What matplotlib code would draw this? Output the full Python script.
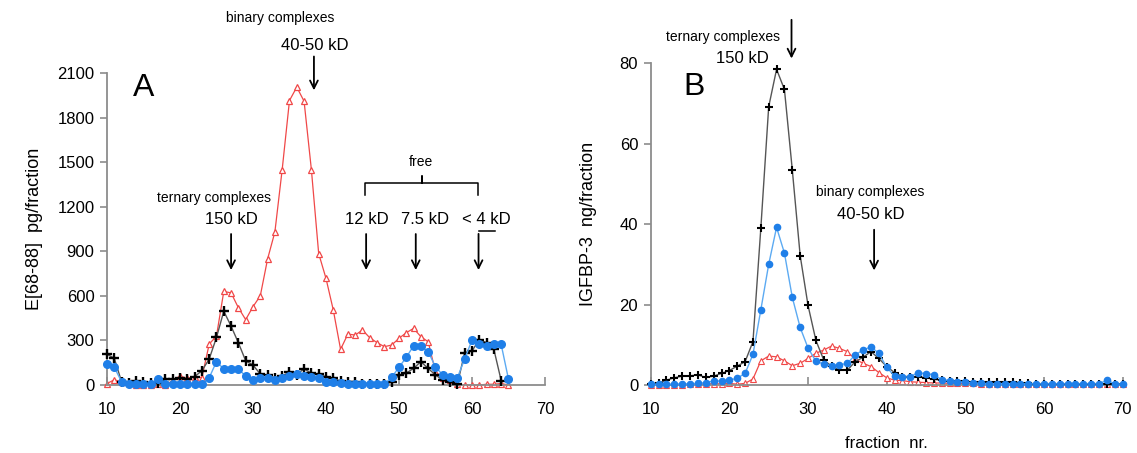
import numpy as np
from matplotlib import pyplot as plt

plt.rcParams['font.family'] = ['Liberation Sans', 'DejaVu Sans']

# Panel A: E[68-88] pg/fraction, fractions 10..65
frac_a = list(range(10, 66))
red_a = [10, 35, 20, 22, 0, 0, 0, 10, 0, 30,
         60, 45, 55, 50, 275, 330, 630, 620, 520, 440,
         527, 600, 848, 1030, 1450, 1915, 2005, 1910, 1450, 885,
         718, 505, 240, 343, 336, 370, 318, 285, 258, 269,
         314, 352, 381, 325, 291, 90, 45, 35, 10, 0,
         0, 0, 5, 5, 10, 0]
frac_a_black = list(range(10, 65))
black_a = [208, 179, 22, 15, 25, 22, 11, 15, 38, 38,
           45, 40, 56, 96, 175, 320, 497, 396, 284, 163,
           134, 74, 65, 45, 60, 87, 70, 110, 78, 72,
           55, 45, 25, 20, 20, 8, 5, 5, 5, 20,
           65, 80, 112, 157, 112, 67, 34, 22, 5, 217,
           229, 305, 285, 240, 30]
blue_a = [139, 119, 22, 5, 5, 5, 5, 38, 5, 5,
          5, 5, 5, 5, 49, 157, 108, 108, 108, 60,
          36, 45, 45, 36, 45, 58, 72, 58, 54, 45,
          22, 20, 15, 10, 7, 4, 4, 4, 4, 52,
          119, 186, 264, 264, 224, 123, 67, 52, 49, 175,
          302, 273, 264, 273, 273, 40]

# Panel B: IGFBP-3 ng/fraction, fractions 10..70
frac_b = list(range(10, 71))
black_b = [0.2, 0.5, 1.2, 1.8, 2.2, 2.3, 2.5, 1.9, 2.2, 2.9,
           3.6, 4.7, 5.8, 10.8, 39.0, 69.2, 78.5, 73.5, 53.5, 32.2,
           19.8, 11.1, 6.2, 4.7, 3.7, 3.7, 5.8, 6.9, 8.3, 6.6,
           4.6, 3.1, 2.1, 2.1, 2.1, 1.8, 1.4, 1.2, 1.0, 0.9,
           0.9, 0.8, 0.8, 0.7, 0.7, 0.7, 0.8, 0.6, 0.4, 0.3,
           0.3, 0.3, 0.3, 0.3, 0.3, 0.3, 0.3, 0.3, 0.3, 0.3, 0.3]
blue_b = [0.2, 0.2, 0.2, 0.2, 0.3, 0.3, 0.4, 0.6, 1.0, 1.0,
          1.2, 1.7, 2.9, 7.6, 18.7, 30.0, 39.2, 32.8, 21.8, 14.3,
          9.2, 5.9, 5.2, 4.7, 5.0, 5.4, 7.5, 8.7, 9.5, 7.9,
          4.4, 2.2, 1.9, 2.1, 3.1, 2.8, 2.6, 1.3, 1.1, 0.8,
          0.7, 0.5, 0.4, 0.3, 0.3, 0.3, 0.3, 0.3, 0.3, 0.3,
          0.3, 0.3, 0.3, 0.3, 0.3, 0.3, 0.3, 0.3, 1.2, 0.3, 0.2]
red_b = [0.1, 0.1, 0.1, 0.1, 0.1, 0.2, 0.2, 0.3, 0.3, 0.3,
         0.4, 0.2, 0.4, 1.5, 6.0, 7.2, 7.0, 6.0, 4.8, 5.4,
         6.6, 7.9, 8.7, 9.7, 9.1, 8.3, 6.4, 5.4, 4.6, 3.1,
         1.8, 1.2, 1.1, 0.8, 0.7, 0.6, 0.5, 0.5, 0.4, 0.4,
         0.4, 0.4, 0.3, 0.3, 0.3, 0.3, 0.3, 0.3, 0.3, 0.3,
         0.3, 0.3, 0.3, 0.3, 0.3, 0.3, 0.3, 0.3, 0.3, 0.3, 0.3]

RED = '#f04848'
BLUE = '#1f7fe8'
BLUE_LINE = '#5caaf2'
GRAY = '#8c8c8c'


def style_axes(ax):
    for side in ['top', 'right']:
        ax.spines[side].set_visible(False)
    for side in ['left', 'bottom']:
        ax.spines[side].set_color(GRAY)
        ax.spines[side].set_linewidth(1.3)
    ax.tick_params(axis='y', direction='out', length=5, width=1.2, color=GRAY, labelsize=12, pad=4)
    ax.tick_params(axis='x', direction='in', length=6, width=1.2, color=GRAY, labelsize=12, pad=12)


def down_arrow(ax, x, y0, y1):
    ax.annotate('', xy=(x, y1), xytext=(x, y0), annotation_clip=False,
                arrowprops=dict(arrowstyle='->', color='black', lw=1.3, mutation_scale=14))


fig = plt.figure(figsize=(11.37, 4.53), dpi=100)
ax_a = fig.add_axes([0.0941, 0.1501, 0.3852, 0.6887])
ax_b = fig.add_axes([0.5723, 0.1501, 0.4151, 0.7102])

# ---- panel A ----
ax_a.plot(frac_a, red_a, color=RED, lw=0.9, marker='^', ms=5, mfc='white', mec=RED, mew=0.9, clip_on=False, zorder=2)
ax_a.plot(frac_a_black, black_a, color='#555555', lw=1.0, marker='+', ms=7.5, mec='black', mew=1.7, clip_on=False, zorder=3)
ax_a.plot(frac_a, blue_a, color=BLUE_LINE, lw=1.0, marker='o', ms=5.5, mfc=BLUE, mec=BLUE, clip_on=False, zorder=4)
ax_a.set_xlim(10, 70)
ax_a.set_ylim(0, 2100)
ax_a.set_xticks(range(10, 71, 10))
ax_a.set_yticks(range(0, 2101, 300))
style_axes(ax_a)
ax_a.set_ylabel('E[68-88]  pg/fraction', fontsize=13, labelpad=10)

ax_a.text(13.6, 2000, 'A', fontsize=23, va='center', ha='left')
ax_a.text(33.7, 2470, 'binary complexes', fontsize=10, ha='center', va='center')
ax_a.text(38.5, 2288, '40-50 kD', fontsize=12, ha='center', va='center')
down_arrow(ax_a, 38.35, 2230, 1965)
ax_a.text(24.7, 1258, 'ternary complexes', fontsize=10, ha='center', va='center')
ax_a.text(27.1, 1115, '150 kD', fontsize=12, ha='center', va='center')
down_arrow(ax_a, 27.0, 1035, 755)
ax_a.text(53.0, 1500, 'free', fontsize=10, ha='center', va='center')
# brace over the free fractions
ax_a.plot([45.3, 45.3, 53.1, 53.1, 53.1, 60.85, 60.85],
          [1279, 1359, 1359, 1407, 1359, 1359, 1279], color='black', lw=1.1, clip_on=False)
ax_a.text(45.6, 1115, '12 kD', fontsize=12, ha='center', va='center')
down_arrow(ax_a, 45.5, 1035, 755)
ax_a.text(53.5, 1115, '7.5 kD', fontsize=12, ha='center', va='center')
down_arrow(ax_a, 52.3, 1035, 755)
ax_a.text(62.0, 1115, '< 4 kD', fontsize=12, ha='center', va='center')
ax_a.plot([60.9, 63.1], [1036, 1036], color='black', lw=1.1, clip_on=False)
down_arrow(ax_a, 60.9, 1036, 755)

# ---- panel B ----
ax_b.plot(frac_b, red_b, color=RED, lw=0.9, marker='^', ms=4.5, mfc='white', mec=RED, mew=0.8, clip_on=False, zorder=2)
ax_b.plot(frac_b, black_b, color='#555555', lw=1.0, marker='+', ms=6, mec='black', mew=1.5, clip_on=False, zorder=3)
ax_b.plot(frac_b, blue_b, color=BLUE_LINE, lw=1.0, marker='o', ms=4.5, mfc=BLUE, mec=BLUE, clip_on=False, zorder=4)
ax_b.set_xlim(10, 70)
ax_b.set_ylim(0, 80)
ax_b.set_xticks(range(10, 71, 10))
ax_b.set_yticks(range(0, 81, 20))
style_axes(ax_b)
ax_b.set_ylabel('IGFBP-3  ng/fraction', fontsize=13, labelpad=16)
ax_b.set_xlabel('fraction  nr.', fontsize=12, labelpad=14)

ax_b.text(14.1, 74, 'B', fontsize=23, va='center', ha='left')
ax_b.text(19.2, 86.6, 'ternary complexes', fontsize=10, ha='center', va='center')
ax_b.text(21.6, 81.1, '150 kD', fontsize=12, ha='center', va='center')
down_arrow(ax_b, 27.9, 91.5, 80.5)
ax_b.text(37.9, 48.0, 'binary complexes', fontsize=10, ha='center', va='center')
ax_b.text(38.0, 42.3, '40-50 kD', fontsize=12, ha='center', va='center')
down_arrow(ax_b, 38.4, 39.3, 27.8)

fig.savefig('out.png', dpi=100)
